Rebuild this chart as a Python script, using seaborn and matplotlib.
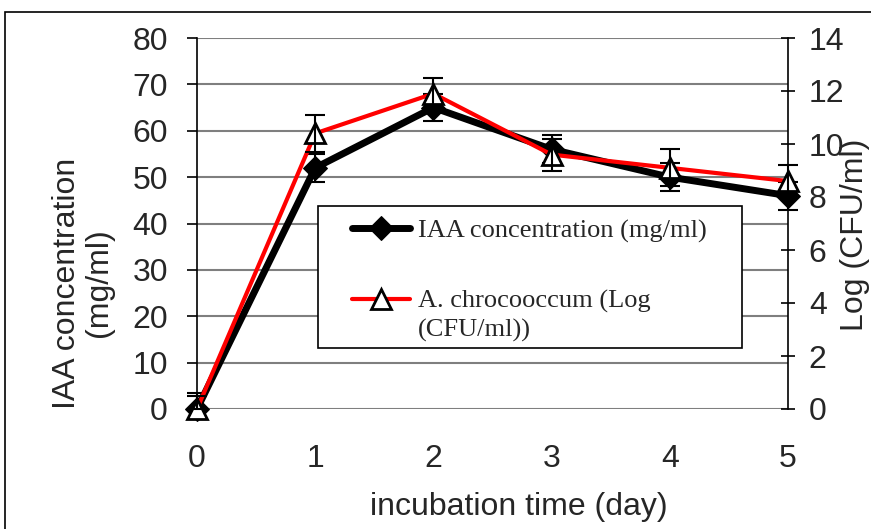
import matplotlib
matplotlib.use("Agg")
import matplotlib.pyplot as plt
import seaborn as sns
import pandas as pd
from matplotlib.patches import Rectangle

# ---- data ----
days = [0, 1, 2, 3, 4, 5]
iaa = [0, 52, 65, 56, 50, 46]
iaa_err_low = [0, 3, 3, 3, 3, 3]
iaa_err_high = [3.5, 3, 3, 3, 3, 3]
cfu = [0, 10.4, 11.9, 9.6, 9.1, 8.6]
cfu_err_low = [0, 0.7, 0.6, 0.6, 0.7, 0.6]
cfu_err_high = [0.5, 0.7, 0.6, 0.6, 0.7, 0.6]
left_ticks = [0, 10, 20, 30, 40, 50, 60, 70, 80]
right_ticks = [0, 2, 4, 6, 8, 10, 12, 14]
x_ticks = [0, 1, 2, 3, 4, 5]
iaa_label = "IAA concentration (mg/ml)"
cfu_label = "A. chrocooccum (Log"
cfu_label_cont = "(CFU/ml))"

sns.set_theme(style="white")
plt.rcParams["font.family"] = ["Liberation Sans", "DejaVu Sans"]

W, H = 871, 529
fig = plt.figure(figsize=(W / 100, H / 100), dpi=100)
ax = fig.add_axes([197 / W, 1 - 409 / H, (788 - 197) / W, (409 - 38) / H])
ax2 = ax.twinx()

df = pd.DataFrame({"day": days, "iaa": iaa, "cfu": cfu})

sns.lineplot(data=df, x="day", y="iaa", ax=ax, color="black", linewidth=5,
             marker="D", markersize=12, markeredgecolor="black",
             markerfacecolor="black", label=iaa_label, zorder=3)
ax.errorbar(days, iaa, yerr=[iaa_err_low, iaa_err_high], fmt="none",
            ecolor="black", elinewidth=1.5, capsize=7, capthick=1.5,
            zorder=4, clip_on=False)

sns.lineplot(data=df, x="day", y="cfu", ax=ax2, color="red", linewidth=3,
             marker="^", markersize=15, markeredgecolor="black",
             markeredgewidth=2, markerfacecolor="white", label=cfu_label,
             zorder=3)
ax2.errorbar(days, cfu, yerr=[cfu_err_low, cfu_err_high], fmt="none",
             ecolor="black", elinewidth=1.5, capsize=7, capthick=1.5,
             zorder=4, clip_on=False)

for a in (ax, ax2):
    for ln in a.lines:
        ln.set_clip_on(False)
    for c in a.collections:
        c.set_clip_on(False)

ax.set_xlim(0, 5)
ax.set_ylim(0, 80)
ax2.set_ylim(0, 14)
ax.set_xticks(x_ticks)
ax.set_yticks(left_ticks)
ax2.set_yticks(right_ticks)
ax.set_xlabel("")
ax.set_ylabel("")
ax2.set_ylabel("")

ax.yaxis.grid(True, color="#7f7f7f", linewidth=1.5)
ax.xaxis.grid(False)
ax.set_axisbelow(True)

for a in (ax, ax2):
    a.spines["top"].set_visible(False)
    a.spines["bottom"].set_visible(False)
    a.spines["left"].set_color("black")
    a.spines["right"].set_color("black")
    a.spines["left"].set_linewidth(1.2)
    a.spines["right"].set_linewidth(1.2)
ax.spines["right"].set_visible(False)
ax2.spines["left"].set_visible(False)

ax.tick_params(axis="y", direction="out", length=7, width=1.2, color="black",
               pad=14, labelsize=23, left=True)
ax.tick_params(axis="x", length=0, pad=25, labelsize=23)
ax2.tick_params(axis="y", direction="inout", length=10, width=1.2,
                color="black", pad=10, labelsize=23, right=True)

# legend
for a in (ax, ax2):
    if a.get_legend() is not None:
        a.get_legend().remove()
h1, l1 = ax.get_legend_handles_labels()
h2, l2 = ax2.get_legend_handles_labels()
fig.patches.append(Rectangle((318 / W, 1 - 348 / H), (742 - 318) / W,
                             (348 - 206) / H, transform=fig.transFigure,
                             facecolor="white", edgecolor="black",
                             linewidth=1.2, zorder=5))
leg = fig.legend(h1 + h2, l1 + l2, loc="upper left",
                 bbox_to_anchor=(352 / W, 1 - 219 / H), frameon=False,
                 borderpad=0, borderaxespad=0, handlelength=2.2,
                 handletextpad=0.3, labelspacing=1.76,
                 prop={"family": "Liberation Serif", "size": 19})
leg.set_zorder(6)
fig.text(418 / W, 1 - 337 / H, cfu_label_cont, ha="left", va="baseline",
         fontsize=19, family="Liberation Serif", zorder=7)

# axis titles
fig.text(83 / W, 1 - 283 / H, "IAA concentration\n(mg/ml)", rotation=90,
         ha="center", va="center", fontsize=23, multialignment="center",
         linespacing=1.05)
fig.text(519 / W, 1 - 507 / H, "incubation time (day)", ha="center",
         va="center", fontsize=23)
fig.text(855 / W, 1 - 235 / H, "Log (CFU/ml)", rotation=90, ha="center",
         va="center", fontsize=23)

# outer frame
fig.patches.append(Rectangle((5 / W, -0.1), 1.2, 1 - 12 / H + 0.1,
                             transform=fig.transFigure, facecolor="none",
                             edgecolor="black", linewidth=1.2))

fig.savefig("out.png", dpi=100)
